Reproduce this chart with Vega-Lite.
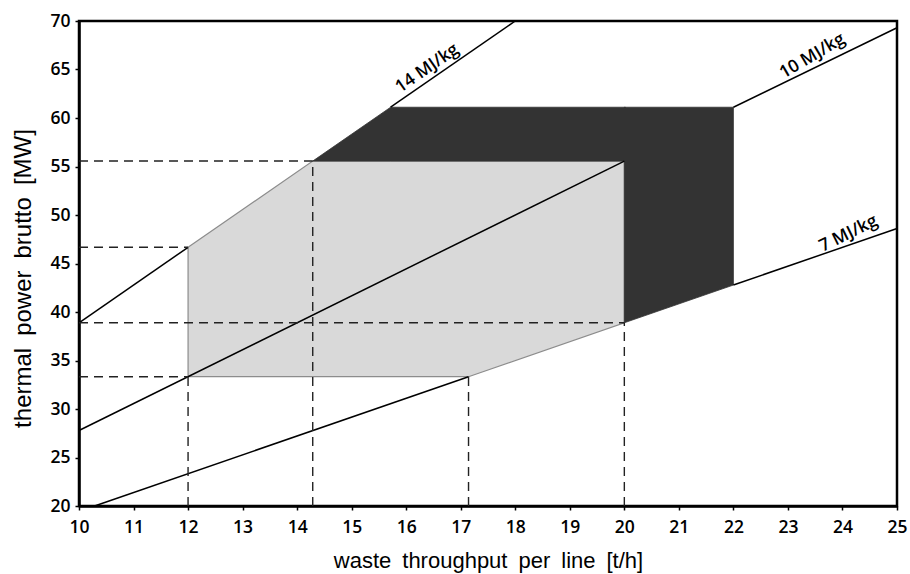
{
  "$schema": "https://vega.github.io/schema/vega-lite/v6.json",
  "width": 818,
  "height": 485,
  "autosize": {"type": "none"},
  "padding": {"left": 79, "top": 21, "right": 13, "bottom": 68},
  "background": "white",
  "config": {
    "view": {"stroke": "black", "strokeWidth": 2.5},
    "axis": {
      "domainColor": "black",
      "domainWidth": 2.5,
      "tickColor": "black",
      "tickWidth": 1.5,
      "tickSize": 4,
      "grid": false,
      "labelFont": "Open Sans",
      "labelFontSize": 17.5,
      "labelFontWeight": 600,
      "labelColor": "black",
      "labelFlush": false,
      "titleFont": "Liberation Sans",
      "titleFontWeight": "normal",
      "titleColor": "black"
    }
  },
  "datasets": {
    "gray": [
      {"x": 12, "top": 46.67, "bottom": 33.33},
      {"x": 14.286, "top": 55.56, "bottom": 33.33},
      {"x": 17.143, "top": 55.56, "bottom": 33.33},
      {"x": 20, "top": 55.56, "bottom": 38.89}
    ],
    "black": [
      {"piece": "a", "x": 14.286, "top": 55.56, "bottom": 55.56},
      {"piece": "a", "x": 15.714, "top": 61.11, "bottom": 55.56},
      {"piece": "a", "x": 20.02, "top": 61.11, "bottom": 55.56},
      {"piece": "b", "x": 20, "top": 61.11, "bottom": 38.89},
      {"piece": "b", "x": 22, "top": 61.11, "bottom": 42.78}
    ],
    "segs": [
      {"kind": "solid", "x1": 10, "y1": 38.89, "x2": 12, "y2": 46.67},
      {"kind": "solid", "x1": 15.714, "y1": 61.11, "x2": 18, "y2": 70},
      {"kind": "solid", "x1": 10, "y1": 27.78, "x2": 20, "y2": 55.56},
      {"kind": "solid", "x1": 22, "y1": 61.11, "x2": 25, "y2": 69.3},
      {"kind": "solid", "x1": 10.286, "y1": 20, "x2": 17.143, "y2": 33.33},
      {"kind": "solid", "x1": 22, "y1": 42.78, "x2": 25, "y2": 48.61},
      {"kind": "dashed", "x1": 10, "y1": 55.56, "x2": 14.286, "y2": 55.56},
      {"kind": "dashed", "x1": 10, "y1": 46.67, "x2": 12, "y2": 46.67},
      {"kind": "dashed", "x1": 10, "y1": 38.89, "x2": 20, "y2": 38.89},
      {"kind": "dashed", "x1": 10, "y1": 33.33, "x2": 12, "y2": 33.33},
      {"kind": "dashed", "x1": 12, "y1": 20, "x2": 12, "y2": 33.33},
      {"kind": "dashed", "x1": 14.286, "y1": 20, "x2": 14.286, "y2": 55.56},
      {"kind": "dashed", "x1": 17.143, "y1": 20, "x2": 17.143, "y2": 33.33},
      {"kind": "dashed", "x1": 20, "y1": 20, "x2": 20, "y2": 38.89}
    ],
    "labels": [
      {"label": "14 MJ/kg", "x": 16.5, "y": 64.17},
      {"label": "10 MJ/kg", "x": 23.55, "y": 65.4},
      {"label": "7 MJ/kg", "x": 24.2, "y": 47.05}
    ]
  },
  "layer": [
    {
      "data": {"name": "gray"},
      "mark": {"type": "area", "color": "#d9d9d9", "opacity": 1, "stroke": "#8c8c8c", "strokeWidth": 1.2},
      "encoding": {
        "x": {
          "field": "x", "type": "quantitative",
          "scale": {"domain": [10, 25], "nice": false, "zero": false},
          "axis": {
            "values": [10,11,12,13,14,15,16,17,18,19,20,21,22,23,24,25],
            "labelPadding": 8,
            "title": "waste\u2002throughput\u2002per\u2002line\u2002[t/h]",
            "titleFontSize": 22,
            "titleY": 61, "titleBaseline": "alphabetic"
          }
        },
        "y": {
          "field": "top", "type": "quantitative",
          "scale": {"domain": [20, 70], "nice": false, "zero": false},
          "axis": {
            "values": [20,25,30,35,40,45,50,55,60,65,70],
            "labelPadding": 5,
            "title": "thermal\u2002power\u2002brutto\u2002[MW]",
            "titleFontSize": 24,
            "titleX": -49, "titleY": 257, "titleAngle": -90, "titleBaseline": "alphabetic", "titleAlign": "center"
          }
        },
        "y2": {"field": "bottom"}
      }
    },
    {
      "data": {"name": "black"},
      "mark": {"type": "area", "color": "#333333", "opacity": 1, "stroke": "#333333", "strokeWidth": 0.8},
      "encoding": {
        "x": {"field": "x", "type": "quantitative"},
        "y": {"field": "top", "type": "quantitative"},
        "y2": {"field": "bottom"},
        "detail": {"field": "piece", "type": "nominal"}
      }
    },
    {
      "data": {"name": "segs"},
      "transform": [{"filter": "datum.kind === 'solid'"}],
      "mark": {"type": "rule", "color": "black", "strokeWidth": 1.5},
      "encoding": {
        "x": {"field": "x1", "type": "quantitative"},
        "y": {"field": "y1", "type": "quantitative"},
        "x2": {"field": "x2"},
        "y2": {"field": "y2"}
      }
    },
    {
      "data": {"name": "segs"},
      "transform": [{"filter": "datum.kind === 'dashed'"}],
      "mark": {"type": "rule", "color": "#222222", "strokeWidth": 1.4, "strokeDash": [9, 6]},
      "encoding": {
        "x": {"field": "x1", "type": "quantitative"},
        "y": {"field": "y1", "type": "quantitative"},
        "x2": {"field": "x2"},
        "y2": {"field": "y2"}
      }
    },
    {
      "data": {"name": "labels"},
      "mark": {"type": "text", "font": "Open Sans", "fontSize": 17.5, "fontWeight": 600, "color": "black", "align": "center", "baseline": "bottom", "dy": -2},
      "encoding": {
        "x": {"field": "x", "type": "quantitative"},
        "y": {"field": "y", "type": "quantitative"},
        "text": {"field": "label"},
        "angle": {
          "field": "label", "type": "nominal",
          "scale": {"domain": ["14 MJ/kg", "10 MJ/kg", "7 MJ/kg"], "range": [-34.7, -26.3, -19.1]},
          "legend": null
        }
      }
    }
  ]
}
